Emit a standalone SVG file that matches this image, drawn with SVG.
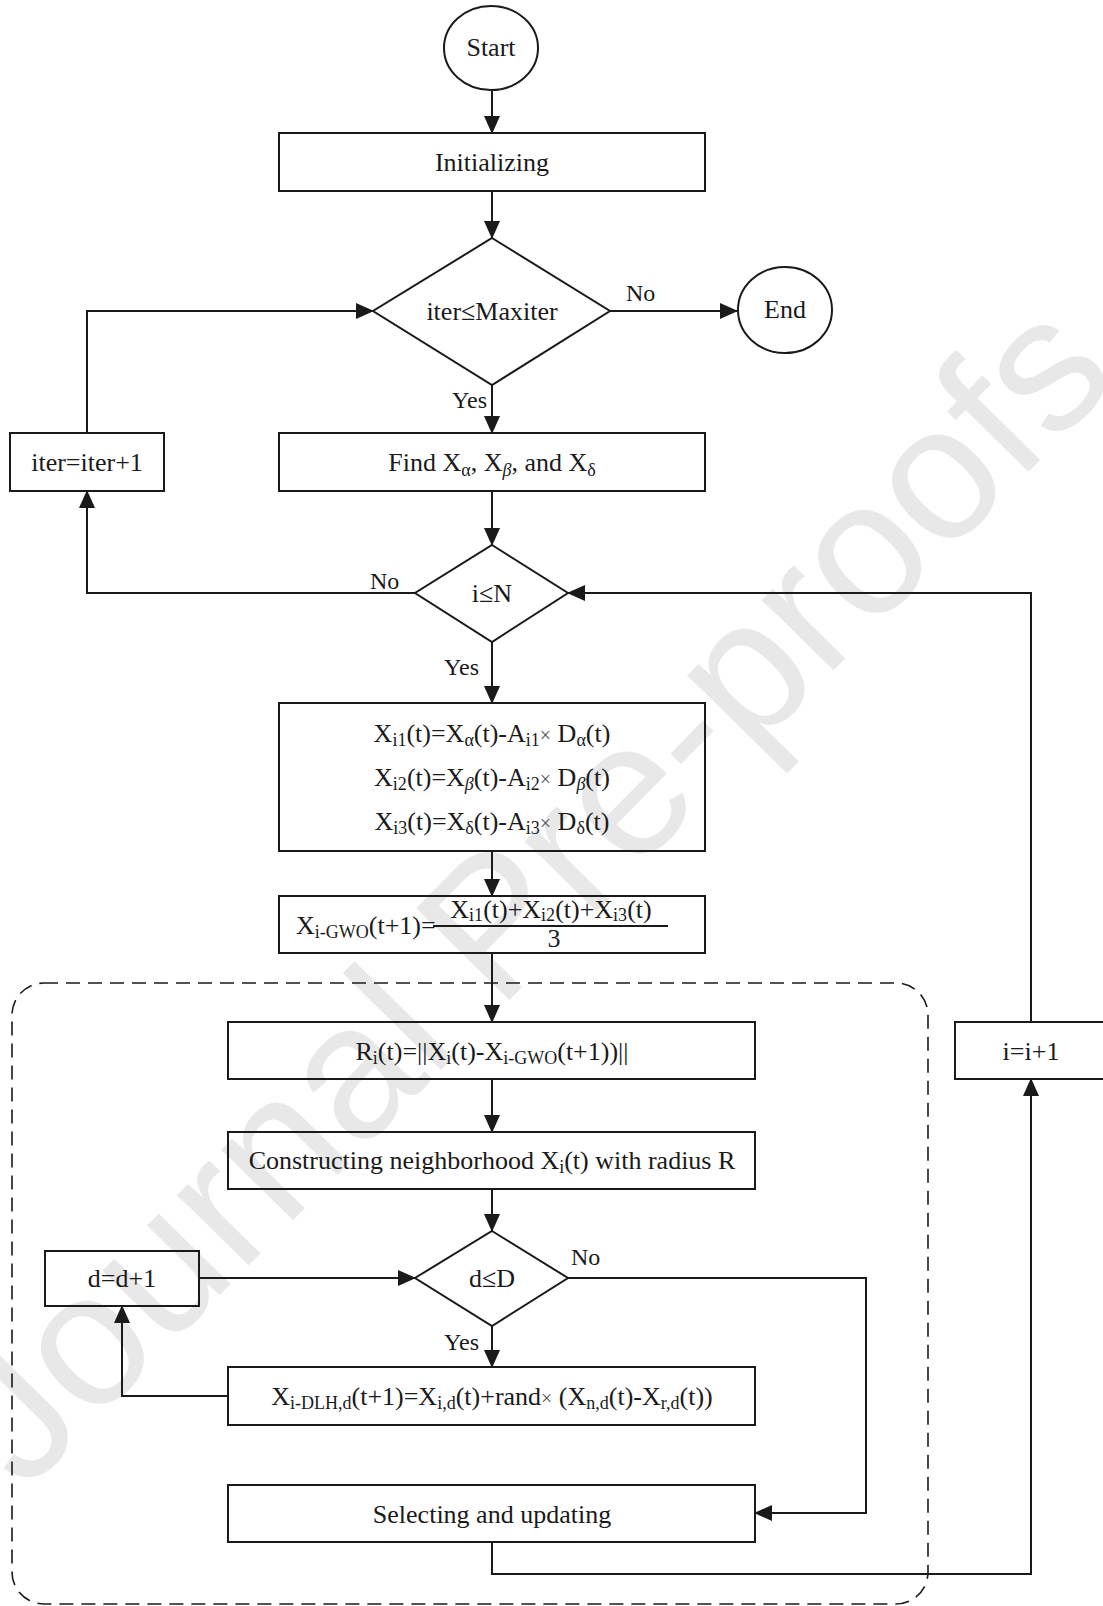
<svg xmlns="http://www.w3.org/2000/svg" width="1103" height="1606" viewBox="0 0 1103 1606">
<style>
  .bg { fill: #ffffff; }
  .wm { font-family: "Liberation Sans", Arial, sans-serif; font-size: 190px; fill: #e8e8e8; }
  .box { fill: none; stroke: #1a1a1a; stroke-width: 2; }
  .t { font-family: "Liberation Serif", "Times New Roman", serif; font-size: 26px; fill: #1a1a1a; text-anchor: middle; }
  .ts { font-family: "Liberation Serif", "Times New Roman", serif; font-size: 26px; fill: #1a1a1a; }
  .sub { font-size: 18px; }
  .lbl { font-family: "Liberation Serif", "Times New Roman", serif; font-size: 24px; fill: #1a1a1a; }
  .c { fill: none; stroke: #1a1a1a; stroke-width: 2; }
  .dash { fill: none; stroke: #1a1a1a; stroke-width: 1.6; stroke-dasharray: 14 8; }
</style>
<defs>
  <marker id="arr" markerUnits="userSpaceOnUse" markerWidth="18" markerHeight="16" viewBox="0 0 18 16" refX="17" refY="8" orient="auto">
    <path d="M0,0 L18,8 L0,16 Z" fill="#1a1a1a"/>
  </marker>
</defs>
<rect class="bg" x="0" y="0" width="1103" height="1606"/>
<text class="wm" text-anchor="middle" transform="translate(572.5,935.8) rotate(-45.5)" x="0" y="0">Journal Pre-proofs</text>

<g id="group-dlh">
  <rect class="dash" x="12" y="983" width="916" height="621" rx="32" ry="32"/>
</g>

<g id="connectors">
  <line class="c" x1="492" y1="90" x2="492" y2="133" marker-end="url(#arr)"/>
  <line class="c" x1="492" y1="191" x2="492" y2="238" marker-end="url(#arr)"/>
  <line class="c" x1="610" y1="311" x2="737" y2="311" marker-end="url(#arr)"/>
  <line class="c" x1="492" y1="385" x2="492" y2="433" marker-end="url(#arr)"/>
  <line class="c" x1="492" y1="491" x2="492" y2="545" marker-end="url(#arr)"/>
  <polyline class="c" points="415,593 87,593 87,491" marker-end="url(#arr)"/>
  <polyline class="c" points="87,433 87,311 373,311" marker-end="url(#arr)"/>
  <line class="c" x1="492" y1="642" x2="492" y2="703" marker-end="url(#arr)"/>
  <line class="c" x1="492" y1="851" x2="492" y2="896" marker-end="url(#arr)"/>
  <line class="c" x1="492" y1="953" x2="492" y2="1022" marker-end="url(#arr)"/>
  <line class="c" x1="492" y1="1079" x2="492" y2="1132" marker-end="url(#arr)"/>
  <line class="c" x1="492" y1="1189" x2="492" y2="1231" marker-end="url(#arr)"/>
  <line class="c" x1="199" y1="1278" x2="415" y2="1278" marker-end="url(#arr)"/>
  <polyline class="c" points="568,1278 866,1278 866,1513 755,1513" marker-end="url(#arr)"/>
  <line class="c" x1="492" y1="1326" x2="492" y2="1367" marker-end="url(#arr)"/>
  <polyline class="c" points="228,1396 122,1396 122,1306" marker-end="url(#arr)"/>
  <polyline class="c" points="492,1542 492,1574 1031,1574 1031,1079" marker-end="url(#arr)"/>
  <polyline class="c" points="1031,1022 1031,593 568,593" marker-end="url(#arr)"/>
  <text class="lbl" x="626" y="301">No</text>
  <text class="lbl" x="487" y="408" text-anchor="end">Yes</text>
  <text class="lbl" x="370" y="589">No</text>
  <text class="lbl" x="479" y="675" text-anchor="end">Yes</text>
  <text class="lbl" x="571" y="1265">No</text>
  <text class="lbl" x="479" y="1350" text-anchor="end">Yes</text>
</g>

<g id="start">
  <ellipse class="box" cx="491" cy="48" rx="47" ry="42"/>
  <text class="t" x="491" y="56">Start</text>
</g>
<g id="init">
  <rect class="box" x="279" y="133" width="426" height="58"/>
  <text class="t" x="492" y="171">Initializing</text>
</g>
<g id="cond-iter">
  <polygon class="box" points="492,238 610,311 492,385 373,311"/>
  <text class="t" x="492" y="320">iter≤Maxiter</text>
</g>
<g id="end">
  <ellipse class="box" cx="785" cy="310" rx="47" ry="43"/>
  <text class="t" x="785" y="318">End</text>
</g>
<g id="find">
  <rect class="box" x="279" y="433" width="426" height="58"/>
  <text class="t" x="492" y="471">Find X<tspan class="sub" dy="5">α</tspan><tspan dy="-5">, X</tspan><tspan class="sub" dy="5" font-style="italic">β</tspan><tspan dy="-5">, and X</tspan><tspan class="sub" dy="5">δ</tspan></text>
</g>
<g id="iter-inc">
  <rect class="box" x="10" y="433" width="154" height="58"/>
  <text class="t" x="87" y="471">iter=iter+1</text>
</g>
<g id="cond-i">
  <polygon class="box" points="492,545 568,593 492,642 415,593"/>
  <text class="t" x="492" y="602">i≤N</text>
</g>
<g id="equations">
  <rect class="box" x="279" y="703" width="426" height="148"/>
  <text class="t" x="492" y="742">X<tspan class="sub" dy="4">i1</tspan><tspan dy="-4">(t)=X</tspan><tspan class="sub" dy="4">α</tspan><tspan dy="-4">(t)-A</tspan><tspan class="sub" dy="4">i1</tspan><tspan dy="-4" font-size="20" fill="#555">×</tspan><tspan> D</tspan><tspan class="sub" dy="4">α</tspan><tspan dy="-4">(t)</tspan></text>
  <text class="t" x="492" y="786">X<tspan class="sub" dy="4">i2</tspan><tspan dy="-4">(t)=X</tspan><tspan class="sub" dy="4" font-style="italic" font-size="21">β</tspan><tspan dy="-4">(t)-A</tspan><tspan class="sub" dy="4">i2</tspan><tspan dy="-4" font-size="20" fill="#555">×</tspan><tspan> D</tspan><tspan class="sub" dy="4" font-style="italic" font-size="21">β</tspan><tspan dy="-4">(t)</tspan></text>
  <text class="t" x="492" y="830">X<tspan class="sub" dy="4">i3</tspan><tspan dy="-4">(t)=X</tspan><tspan class="sub" dy="4">δ</tspan><tspan dy="-4">(t)-A</tspan><tspan class="sub" dy="4">i3</tspan><tspan dy="-4" font-size="20" fill="#555">×</tspan><tspan> D</tspan><tspan class="sub" dy="4">δ</tspan><tspan dy="-4">(t)</tspan></text>
</g>
<g id="gwo">
  <rect class="box" x="279" y="896" width="426" height="57"/>
  <text class="ts" x="296" y="934">X<tspan class="sub" dy="4">i-GWO</tspan><tspan dy="-4">(t+1)=</tspan></text>
  <text class="t" x="551" y="918">X<tspan class="sub" dy="3">i1</tspan><tspan dy="-3">(t)+X</tspan><tspan class="sub" dy="3">i2</tspan><tspan dy="-3">(t)+X</tspan><tspan class="sub" dy="3">i3</tspan><tspan dy="-3">(t)</tspan></text>
  <line class="c" x1="433" y1="926" x2="668" y2="926" stroke-width="1.6"/>
  <text class="t" x="554" y="947">3</text>
</g>
<g id="radius">
  <rect class="box" x="228" y="1022" width="527" height="57"/>
  <text class="t" x="492" y="1060">R<tspan class="sub" dy="4">i</tspan><tspan dy="-4">(t)=||X</tspan><tspan class="sub" dy="4">i</tspan><tspan dy="-4">(t)-X</tspan><tspan class="sub" dy="4">i-GWO</tspan><tspan dy="-4">(t+1))||</tspan></text>
</g>
<g id="construct">
  <rect class="box" x="228" y="1132" width="527" height="57"/>
  <text class="t" x="492" y="1169">Constructing neighborhood X<tspan class="sub" dy="4">i</tspan><tspan dy="-4">(t) with radius R</tspan></text>
</g>
<g id="cond-d">
  <polygon class="box" points="492,1231 568,1278 492,1326 415,1278"/>
  <text class="t" x="492" y="1287">d≤D</text>
</g>
<g id="d-inc">
  <rect class="box" x="45" y="1251" width="154" height="55"/>
  <text class="t" x="122" y="1287">d=d+1</text>
</g>
<g id="dlh">
  <rect class="box" x="228" y="1367" width="527" height="58"/>
  <text class="t" x="492" y="1405">X<tspan class="sub" dy="4">i-DLH,d</tspan><tspan dy="-4">(t+1)=X</tspan><tspan class="sub" dy="4">i,d</tspan><tspan dy="-4">(t)+rand</tspan><tspan font-size="20" fill="#555">×</tspan><tspan> (X</tspan><tspan class="sub" dy="4">n,d</tspan><tspan dy="-4">(t)-X</tspan><tspan class="sub" dy="4">r,d</tspan><tspan dy="-4">(t))</tspan></text>
</g>
<g id="select">
  <rect class="box" x="228" y="1485" width="527" height="57"/>
  <text class="t" x="492" y="1523">Selecting and updating</text>
</g>
<g id="i-inc">
  <rect class="box" x="955" y="1022" width="160" height="57"/>
  <text class="t" x="1031" y="1060">i=i+1</text>
</g>
</svg>
